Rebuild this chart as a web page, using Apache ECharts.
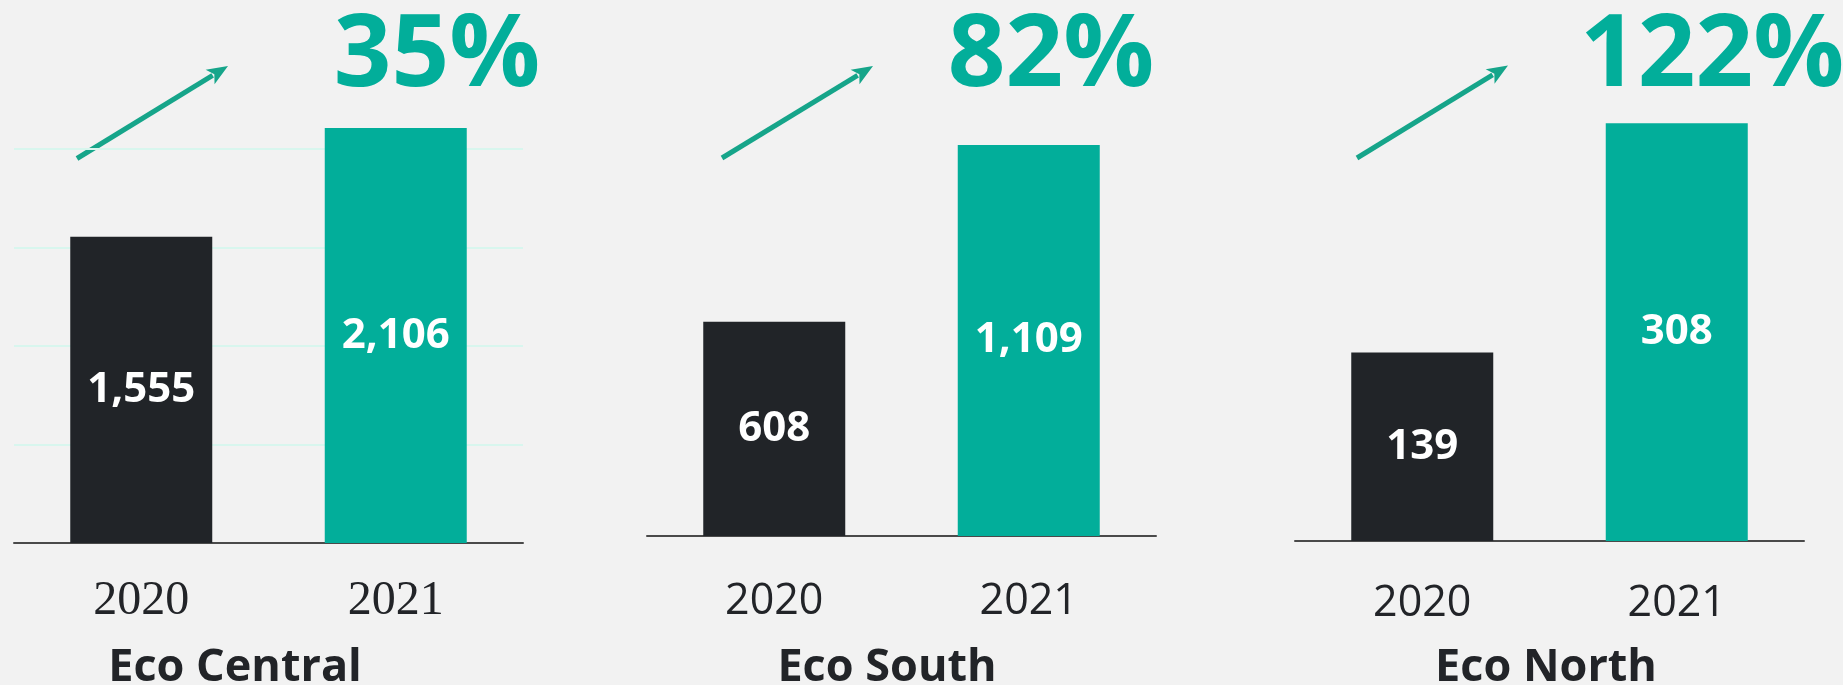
<!DOCTYPE html>
<html>
<head>
<meta charset="utf-8">
<script src="https://cdn.jsdelivr.net/npm/echarts@6/dist/echarts.min.js"></script>
<style>
html,body{margin:0;padding:0;background:#f2f2f2;}
#chart{width:1843px;height:685px;}
</style>
</head>
<body>
<div id="chart"></div>
<script>
// ---- data ----
const years = ['2020', '2021'];
const panelTitles = ['Eco Central', 'Eco South', 'Eco North'];
const centralValues = [1555, 2106];
const southValues = [608, 1109];
const northValues = [139, 308];
const growthLabels = ['35%', '82%', '122%'];

// ---- styling / layout ----
const DARK = '#212428';
const TEAL = '#02ae9a';
const ARROW = '#16a58a';
const TEXT = '#222428';

const grids = [
  { left: 14,   width: 509, top: 50.5,  height: 492.5 },
  { left: 647,  width: 509, top: 112.9, height: 423.1 },
  { left: 1295, width: 509, top: 66.4,  height: 474.6 }
];
const yMax = [2500, 1200, 350];
const panelValues = [centralValues, southValues, northValues];

const chart = echarts.init(document.getElementById('chart'));

const xAxes = grids.map((g, i) => ({
  type: 'category', gridIndex: i, data: years,
  axisLine: { show: true, lineStyle: { color: '#4a4a4a', width: 2 } },
  axisTick: { show: false },
  axisLabel: {
    margin: i === 0 ? 34 : (i === 1 ? 44 : 41),
    fontSize: i === 0 ? 48 : 43,
    fontFamily: i === 0 ? 'Liberation Serif' : 'Open Sans',
    color: TEXT
  }
}));

const yAxes = grids.map((g, i) => ({
  type: 'value', gridIndex: i, min: 0, max: yMax[i],
  interval: i === 0 ? 500 : yMax[i],
  axisLine: { show: false }, axisTick: { show: false }, axisLabel: { show: false },
  splitLine: {
    show: i === 0, showMaxLine: false, showMinLine: false,
    lineStyle: { color: '#d8f6ee', width: 2 }
  }
}));

const series = panelValues.map((vals, i) => ({
  type: 'bar', xAxisIndex: i, yAxisIndex: i, barWidth: 142,
  data: vals.map((v, j) => ({ value: v, itemStyle: { color: j === 0 ? DARK : TEAL } })),
  label: {
    show: true, position: 'inside', color: '#ffffff',
    fontFamily: 'Open Sans', fontWeight: 'bold', fontSize: 42,
    formatter: p => p.value.toLocaleString('en-US')
  },
  silent: true
}));

// titles and growth labels
const titleCenters = [230, 882, 1541];
const growthCenters = [432, 1046, 1707];
const titles = [];
panelTitles.forEach((t, i) => {
  titles.push({
    text: t, left: titleCenters[i], top: 641, textAlign: 'center',
    textStyle: { fontFamily: 'Open Sans', fontWeight: 'bold', fontSize: 45, color: TEXT }
  });
  titles.push({
    text: growthLabels[i], left: growthCenters[i], top: 2, textAlign: 'center',
    textStyle: { fontFamily: 'Open Sans', fontWeight: 'bold', fontSize: 101, color: TEAL }
  });
});

// arrows (annotations)
const arrows = [
  [[77, 158.5], [228, 66]],
  [[722, 158], [873, 66]],
  [[1357, 158], [1508, 65.5]]
];
const graphic = [];
arrows.forEach(([s, e]) => {
  const dx = e[0] - s[0], dy = e[1] - s[1];
  const len = Math.hypot(dx, dy);
  const ux = dx / len, uy = dy / len, nx = -uy, ny = ux;
  const hl = 21, hw = 8.5;
  const bx = e[0] - ux * hl, by = e[1] - uy * hl;
  graphic.push({
    type: 'line', silent: true,
    shape: { x1: s[0], y1: s[1], x2: bx + ux * 3, y2: by + uy * 3 },
    style: { stroke: ARROW, lineWidth: 5 }
  });
  graphic.push({
    type: 'polygon', silent: true,
    shape: { points: [[e[0], e[1]], [bx + nx * hw, by + ny * hw], [bx + ux * 5, by + uy * 5], [bx - nx * hw, by - ny * hw]] },
    style: { fill: ARROW }
  });
});

chart.setOption({
  backgroundColor: '#f2f2f2',
  animation: false,
  title: titles,
  grid: grids,
  xAxis: xAxes,
  yAxis: yAxes,
  series: series,
  graphic: graphic
});
</script>
</body>
</html>
